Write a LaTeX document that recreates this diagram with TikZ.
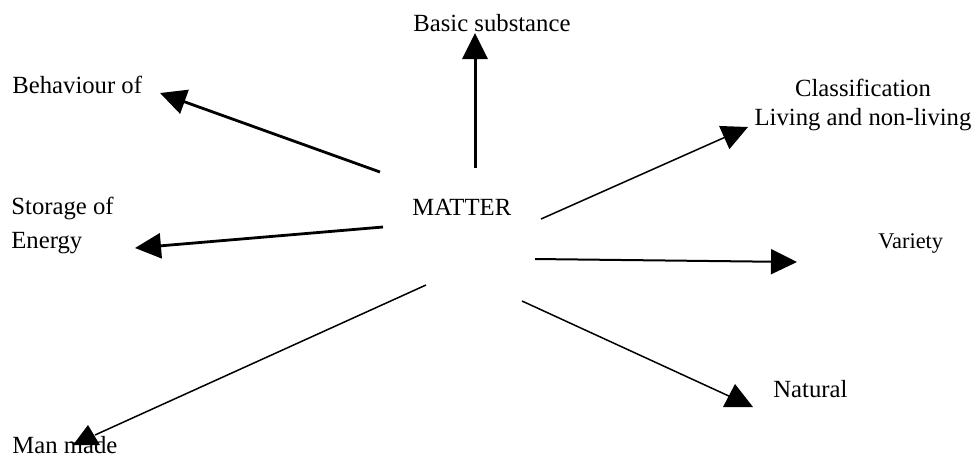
\documentclass[tikz,border=0pt]{standalone}
\usepackage{fontspec}
\setmainfont{Liberation Serif}
\usetikzlibrary{arrows.meta,positioning}

\begin{document}
\begin{tikzpicture}[x=0.5pt, y=-0.5pt, lbl/.style={inner sep=0pt, font=\fontsize{12.35}{14.5}\selectfont}, small/.style={lbl, font=\fontsize{11.2}{13}\selectfont}, heavy/.style={->, line width=1.4pt}, light/.style={->, line width=0.75pt}, plain/.style={line width=0.75pt}, >={Triangle[length=13pt,width=12.5pt]}]
\useasboundingbox (0,0) rectangle (980,457);
\node[lbl, anchor=base west] (matter) at (412,215) {MATTER};
\node[lbl, anchor=base west] (basic) at (413,31) {Basic substance};
\node[lbl, anchor=base west] (behav) at (12,93) {Behaviour of};
\node[lbl, anchor=north, align=center] (class) at (863,79) {Classification\\Living and non-living};
\node[lbl, anchor=north west, align=left] (storage) at (11,197) {Storage of\\[2.5pt]Energy};
\node[small, anchor=base west] (variety) at (878,248) {Variety};
\node[lbl, anchor=base west] (natural) at (773,397) {Natural};
\node[lbl, anchor=base west] (manmade) at (12,453) {Man made};
% ends of the arrows round MATTER
\coordinate (m-basic) at (475,168); \coordinate (t-basic) at (475,33);
\coordinate (m-behav) at (380,172); \coordinate (t-behav) at (160,93);
\coordinate (m-store) at (383,227); \coordinate (t-store) at (135,248);
\coordinate (m-man) at (426,285); \coordinate (t-man) at (95,435);
\coordinate (m-nat) at (522,301); \coordinate (t-nat) at (731,397);
\coordinate (m-var) at (535,259); \coordinate (t-var) at (797,262);
\coordinate (m-class) at (541,219); \coordinate (t-class) at (748,127);
\draw[heavy, line width=1.5pt] (m-basic) -- (t-basic);
\draw[heavy] (m-behav) -- (t-behav); \draw[heavy] (m-store) -- (t-store);
\draw[light, line width=1pt] (m-var) -- (t-var); \draw[light] (m-class) -- (t-class);
\draw[plain] (m-man) -- (t-man); \draw[plain] (m-nat) -- (t-nat);
\fill (t-man) ++(-7,-10) -- ++(-15,20) -- ++(27,0) -- cycle;
\fill (t-nat) ++(4,-13) -- ++(-12,23) -- ++(30,0) -- cycle;
\end{tikzpicture}
\end{document}
